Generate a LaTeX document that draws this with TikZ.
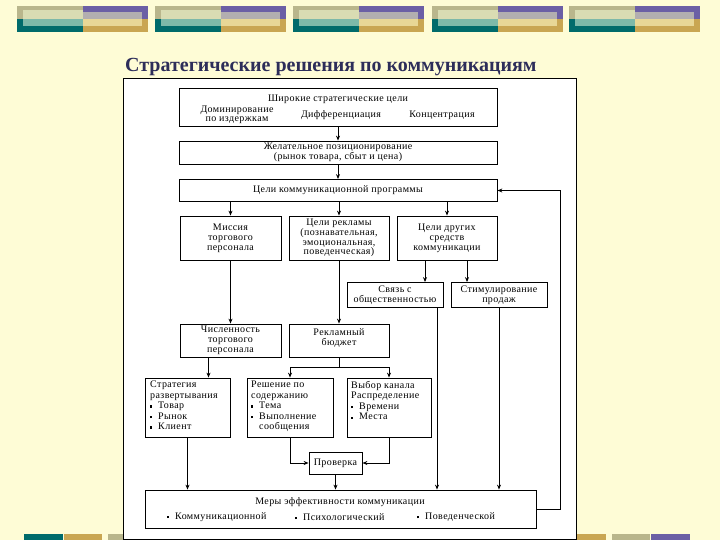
\documentclass[tikz,border=0pt]{standalone}
\usepackage{fontspec}
\setmainfont{Liberation Serif}
\newfontfamily\dfont{Liberation Serif}[LetterSpace=4]
\usetikzlibrary{arrows.meta,calc}
\definecolor{bg}{RGB}{254,252,214}
\definecolor{khaki}{RGB}{185,182,140}
\definecolor{lightk}{RGB}{217,220,179}
\definecolor{tealdark}{RGB}{0,107,107}
\definecolor{teallight}{RGB}{125,185,169}
\definecolor{purp}{RGB}{107,95,165}
\definecolor{lavender}{RGB}{178,174,176}
\definecolor{gold}{RGB}{201,166,82}
\definecolor{paley}{RGB}{232,215,150}
\definecolor{titlec}{RGB}{45,45,90}
\newcommand{\mybul}{\rule[0.25ex]{2.2pt}{2.2pt}\ \ }
\begin{document}
\begin{tikzpicture}[x=1pt,y=-1pt,
  box/.style={draw=black, line width=0.8pt, fill=white, inner sep=0pt},
  txt/.style={font=\dfont\fontsize{10}{10}\selectfont, align=center, inner sep=0pt},
  ltxt/.style={font=\dfont\fontsize{10}{10.5}\selectfont, align=left, inner sep=0pt, anchor=north west},
  arr/.style={-{Stealth[length=5pt,width=4pt]}, line width=0.9pt},
  ln/.style={line width=0.9pt}]
\useasboundingbox (0,0) rectangle (720,540);
\fill[bg] (0,0) rectangle (720,540);
% top decorative bars
\foreach \x in {17,155,293,432,569}{
  \fill[khaki] (\x,6) rectangle ++(66,13);
  \fill[lightk] (\x+6,10) rectangle ++(60,9);
  \fill[tealdark] (\x,19) rectangle ++(66,13);
  \fill[teallight] (\x+6,19) rectangle ++(60,7);
  \fill[purp] (\x+66,6) rectangle ++(65,13);
  \fill[lavender] (\x+66,12) rectangle ++(59,7);
  \fill[gold] (\x+66,19) rectangle ++(65,13);
  \fill[paley] (\x+66,19) rectangle ++(59,7);
}
% bottom bars
\fill[tealdark] (24,534) rectangle (63,540);
\fill[gold] (64,534) rectangle (102,540);
\fill[khaki] (108,534) rectangle (147,540);
\fill[gold] (567,534) rectangle (606,540);
\fill[khaki] (612,534) rectangle (650,540);
\fill[purp] (651,534) rectangle (690,540);
% title
\node[font=\bfseries\fontsize{20}{22}\selectfont, text=titlec, anchor=base west, inner sep=0pt] (title) at (125,72) {Стратегические решения по коммуникациям};
% panel
\draw[fill=white, line width=0.8pt] (123,78) rectangle (576,539);
% boxes
\node[box, minimum width=318pt, minimum height=38pt] (b1) at (338,107) {};
\node[txt] (b1t) at (338,99) {Широкие стратегические цели};
\node[txt, font=\dfont\fontsize{10}{9.2}\selectfont] (b1a) at (237,114.5) {Доминирование\\по издержкам};
\node[txt] (b1b) at (341,115) {Дифференциация};
\node[txt] (b1c) at (442,115) {Концентрация};
\node[box, txt, minimum width=318pt, minimum height=23pt] (b2) at (338,152.5) {Желательное позиционирование\\(рынок товара, сбыт и цена)};
\node[box, txt, minimum width=318pt, minimum height=22pt] (b3) at (338,190.5) {Цели коммуникационной программы};
\node[box, txt, minimum width=101pt, minimum height=44pt] (m1) at (230.5,238) {Миссия\\торгового\\персонала};
\node[box, txt, font=\dfont\fontsize{10}{9.6}\selectfont, minimum width=100pt, minimum height=44pt] (m2) at (339,238) {Цели рекламы\\(познавательная,\\эмоциональная,\\поведенческая)};
\node[box, txt, minimum width=100pt, minimum height=44pt] (m3) at (447,238) {Цели других\\средств\\коммуникации};
\node[box, txt, minimum width=96pt, minimum height=25pt] (s1) at (395,295) {Связь с\\общественностью};
\node[box, txt, minimum width=96pt, minimum height=25pt] (s2) at (499,295) {Стимулирование\\продаж};
\node[box, txt, minimum width=101pt, minimum height=33pt] (n1) at (230.5,340.5) {Численность\\торгового\\персонала};
\node[box, minimum width=100pt, minimum height=33pt] (n2) at (339,340.5) {};
\node[txt] (n2t) at (339,338) {Рекламный\\бюджет};
\node[box, minimum width=85pt, minimum height=59pt] (d1) at (187.5,407.5) {};
\node[ltxt] (d1t) at (150,381) {Стратегия\\развертывания\\\mybul Товар\\\mybul Рынок\\\mybul Клиент};
\node[box, minimum width=86pt, minimum height=59pt] (d2) at (290,407.5) {};
\node[ltxt] (d2t) at (251,381) {Решение по\\содержанию\\\mybul Тема\\\mybul Выполнение\\\phantom{\mybul}сообщения};
\node[box, minimum width=84pt, minimum height=59pt] (d3) at (389,407.5) {};
\node[ltxt] (d3t) at (351,381) {Выбор канала\\Распределение\\\mybul Времени\\\mybul Места};
\node[box, txt, minimum width=53pt, minimum height=22pt] (p) at (335.5,463) {Проверка};
\node[box, minimum width=391pt, minimum height=38pt] (M) at (340.5,509) {};
\node[txt] (Mt) at (340,502) {Меры эффективности коммуникации};
\node[txt, anchor=west] (M1) at (167,517) {\mybul Коммуникационной};
\node[txt, anchor=west] (M2) at (295,517) {\mybul Психологический};
\node[txt, anchor=west] (M3) at (417,517) {\mybul Поведенческой};
% connectors
\draw[arr] (b1.south) -- (b2.north);
\draw[arr] (b2.south) -- (b3.north);
\draw[arr] (m1.north |- b3.south) -- (m1.north);
\draw[arr] (m2.north |- b3.south) -- (m2.north);
\draw[arr] (m3.north |- b3.south) -- (m3.north);
\draw[arr] ([xshift=-22pt]m3.south) -- ([xshift=-22pt]m3.south |- s1.north);
\draw[arr] ([xshift=20pt]m3.south) -- ([xshift=20pt]m3.south |- s2.north);
\draw[arr] (m1.south) -- (n1.north);
\draw[arr] (m2.south) -- (n2.north);
\draw[arr] ([xshift=-22pt]n1.south) -- ([xshift=-22pt]n1.south |- d1.north);
\draw[ln] (n2.south) -- ++(0,10) coordinate (br);
\draw[arr] (br) -| (d2.north);
\draw[arr] (br) -| (d3.north);
\draw[arr] (d1.south) -- (d1.south |- M.north);
\draw[arr] (d2.south) |- (p.west);
\draw[arr] (d3.south) |- (p.east);
\draw[arr] (p.south) -- (p.south |- M.north);
\draw[arr] ([xshift=42pt]s1.south) -- ([xshift=42pt]s1.south |- M.north);
\draw[arr] (s2.south) -- (s2.south |- M.north);
\draw[arr] (M.east) -- ++(24,0) |- (b3.east);
\end{tikzpicture}
\end{document}
